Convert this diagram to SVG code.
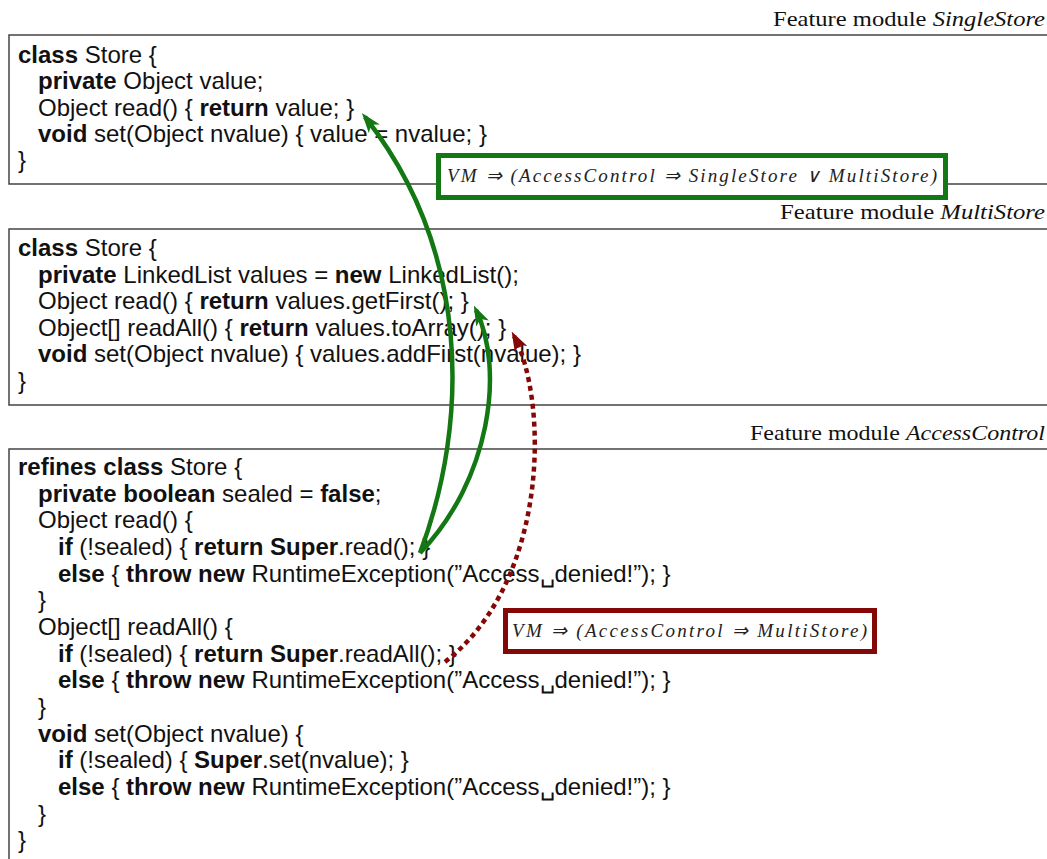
<svg xmlns="http://www.w3.org/2000/svg" width="1047" height="859" viewBox="0 0 1047 859">
<style>
.code{font-family:"Liberation Sans",Arial,sans-serif;font-size:24px;fill:#111}
.b{font-weight:bold}
.lbl{font-family:"Liberation Serif","Times New Roman",serif;font-size:21px;fill:#111;text-anchor:end}
.lbl tspan{font-style:italic}
.math{font-family:"Liberation Serif","Times New Roman",serif;font-size:19px;font-style:italic;fill:#222}
.frame{fill:none;stroke:#444;stroke-width:1.5}
.g{fill:none;stroke:#137813;stroke-width:4.5}
.r{fill:none;stroke:#850808;stroke-width:4.5;stroke-dasharray:5 4}
</style>
<defs>
<marker id="ag" viewBox="0 0 20 14" refX="15" refY="7" markerWidth="20" markerHeight="14" markerUnits="userSpaceOnUse" orient="auto">
<path d="M0,0 L20,7 L0,14 L5,7 z" fill="#137813"/>
</marker>
<marker id="ar" viewBox="0 0 20 14" refX="15" refY="7" markerWidth="20" markerHeight="14" markerUnits="userSpaceOnUse" orient="auto">
<path d="M0,0 L20,7 L0,14 L5,7 z" fill="#850808"/>
</marker>
</defs>
<rect width="1047" height="859" fill="#fff"/>

<g id="single-store">
<text class="lbl" x="1045" y="26" textLength="272" lengthAdjust="spacingAndGlyphs">Feature module <tspan>SingleStore</tspan></text>
<path class="frame" d="M1047,35 H9 V184 H1047"/>
<text class="code" x="18" y="63"><tspan class="b">class</tspan> Store {</text>
<text class="code" x="38" y="89"><tspan class="b">private</tspan> Object value;</text>
<text class="code" x="38" y="116">Object read() { <tspan class="b">return</tspan> value; }</text>
<text class="code" x="38" y="142"><tspan class="b">void</tspan> set(Object nvalue) { value = nvalue; }</text>
<text class="code" x="18" y="168">}</text>
</g>

<g id="multi-store">
<text class="lbl" x="1045" y="219" textLength="265" lengthAdjust="spacingAndGlyphs">Feature module <tspan>MultiStore</tspan></text>
<path class="frame" d="M1047,229 H9 V405 H1047"/>
<text class="code" x="18" y="256"><tspan class="b">class</tspan> Store {</text>
<text class="code" x="38" y="283"><tspan class="b">private</tspan> LinkedList values = <tspan class="b">new</tspan> LinkedList();</text>
<text class="code" x="38" y="309">Object read() { <tspan class="b">return</tspan> values.getFirst(); }</text>
<text class="code" x="38" y="336">Object[] readAll() { <tspan class="b">return</tspan> values.toArray(); }</text>
<text class="code" x="38" y="362"><tspan class="b">void</tspan> set(Object nvalue) { values.addFirst(nvalue); }</text>
<text class="code" x="18" y="389">}</text>
</g>

<g id="access-control">
<text class="lbl" x="1045" y="440" textLength="295" lengthAdjust="spacingAndGlyphs">Feature module <tspan>AccessControl</tspan></text>
<path class="frame" d="M1047,449 H9 V859"/>
<text class="code" x="18" y="475"><tspan class="b">refines class</tspan> Store {</text>
<text class="code" x="38" y="502"><tspan class="b">private boolean</tspan> sealed = <tspan class="b">false</tspan>;</text>
<text class="code" x="38" y="528">Object read() {</text>
<text class="code" x="58" y="555"><tspan class="b">if</tspan> (!sealed) { <tspan class="b">return Super</tspan>.read(); }</text>
<text class="code" x="58" y="582"><tspan class="b">else</tspan> { <tspan class="b">throw new</tspan> RuntimeException(”Access␣denied!”); }</text>
<text class="code" x="38" y="608">}</text>
<text class="code" x="38" y="635">Object[] readAll() {</text>
<text class="code" x="58" y="662"><tspan class="b">if</tspan> (!sealed) { <tspan class="b">return Super</tspan>.readAll(); }</text>
<text class="code" x="58" y="688"><tspan class="b">else</tspan> { <tspan class="b">throw new</tspan> RuntimeException(”Access␣denied!”); }</text>
<text class="code" x="38" y="715">}</text>
<text class="code" x="38" y="742"><tspan class="b">void</tspan> set(Object nvalue) {</text>
<text class="code" x="58" y="768"><tspan class="b">if</tspan> (!sealed) { <tspan class="b">Super</tspan>.set(nvalue); }</text>
<text class="code" x="58" y="795"><tspan class="b">else</tspan> { <tspan class="b">throw new</tspan> RuntimeException(”Access␣denied!”); }</text>
<text class="code" x="38" y="822">}</text>
<text class="code" x="18" y="848">}</text>
</g>

<g id="connectors">
<path class="g" d="M420,553 C470,420 470,250 365,117" marker-end="url(#ag)"/>
<path class="g" d="M420,553 C490,480 505,370 476,310" marker-end="url(#ag)"/>
<path class="r" d="M445,662 C550,580 548,400 514,336" marker-end="url(#ar)"/>
</g>

<g id="constraint-green">
<rect x="438.5" y="155.5" width="507" height="42" fill="#fff" stroke="#137813" stroke-width="5"/>
<text class="math" x="447" y="182" textLength="490" lengthAdjust="spacing">VM ⇒ (AccessControl ⇒ SingleStore ∨ MultiStore)</text>
</g>

<g id="constraint-red">
<rect x="505.5" y="610.5" width="369" height="41" fill="#fff" stroke="#850808" stroke-width="5"/>
<text class="math" x="512" y="637" textLength="355" lengthAdjust="spacing">VM ⇒ (AccessControl ⇒ MultiStore)</text>
</g>
</svg>
